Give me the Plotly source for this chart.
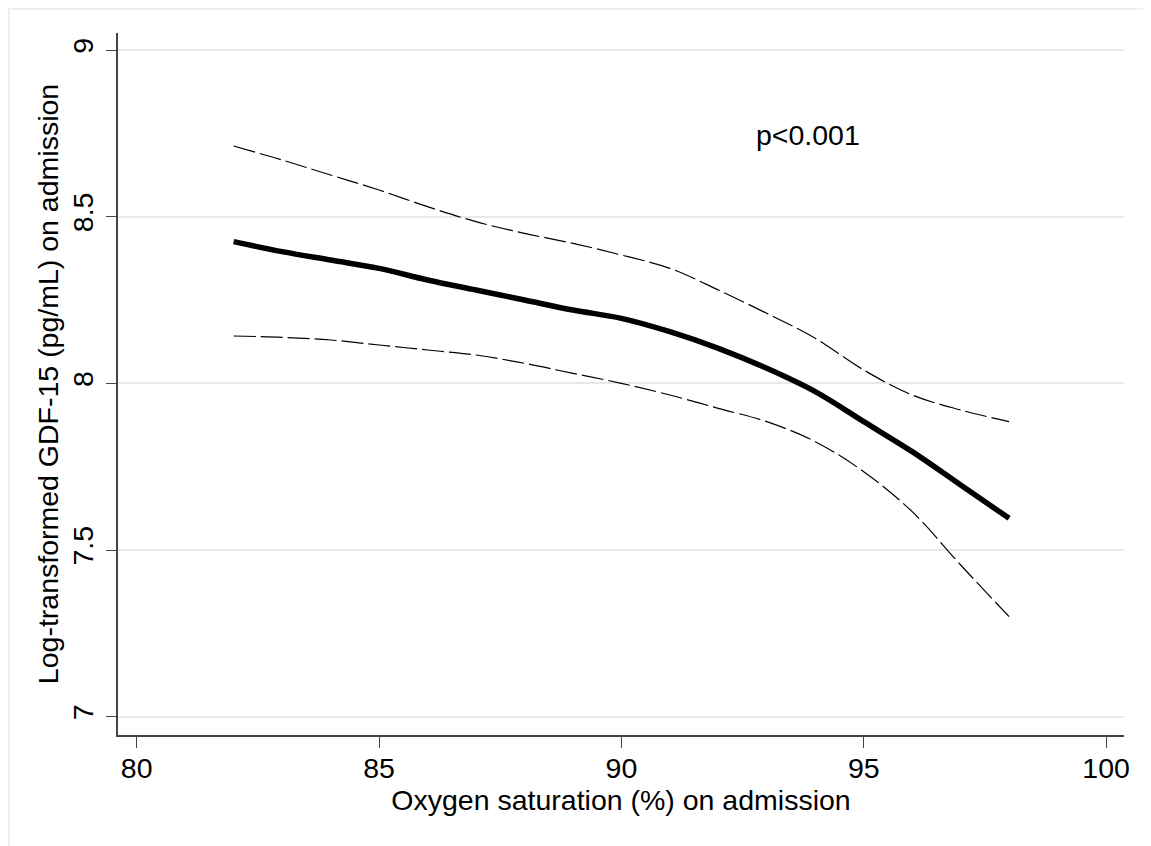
import plotly.graph_objects as go

# Data
oxygen_sat = [82, 83, 84, 85, 86, 87, 88, 89, 90, 91, 92, 93, 94, 95, 96, 97, 98]
gdf15_fit = [8.425, 8.395, 8.37, 8.345, 8.31, 8.28, 8.25, 8.22, 8.195, 8.155, 8.105,
             8.045, 7.975, 7.885, 7.795, 7.695, 7.595]
gdf15_upper = [8.712, 8.67, 8.625, 8.58, 8.53, 8.485, 8.45, 8.42, 8.385, 8.345, 8.28,
               8.21, 8.135, 8.04, 7.965, 7.92, 7.885]
gdf15_lower = [8.142, 8.138, 8.13, 8.115, 8.10, 8.085, 8.06, 8.03, 8.0, 7.965, 7.925,
               7.885, 7.825, 7.735, 7.615, 7.455, 7.30]

x_ticks = [80, 85, 90, 95, 100]
y_ticks = [7, 7.5, 8, 8.5, 9]
y_tick_labels = ["7", "7.5", "8", "8.5", "9"]
p_text = "p<0.001"
p_pos = (93.85, 8.745)

FONT = "Liberation Sans, Arial, sans-serif"
FS = 28.5

fig = go.Figure()
for ys in (gdf15_upper, gdf15_lower):
    fig.add_trace(go.Scatter(
        x=oxygen_sat, y=ys, mode="lines", line_shape="spline",
        line=dict(color="black", width=1.2, dash="22px,5px"),
        showlegend=False, hoverinfo="skip"))
fig.add_trace(go.Scatter(
    x=oxygen_sat, y=gdf15_fit, mode="lines", line_shape="spline",
    line=dict(color="black", width=5.5),
    showlegend=False))

fig.add_annotation(x=p_pos[0], y=p_pos[1], text=p_text, showarrow=False,
                   font=dict(family=FONT, size=FS, color="black"))

# faint outer frame (Stata-like graph region)
fig.add_shape(type="rect", xref="paper", yref="paper",
              x0=(9 - 118) / 1006, x1=(1160 - 118) / 1006,
              y0=(735 - 860) / 702, y1=(735 - 9) / 702,
              line=dict(color="#f0f0f0", width=2), layer="below")

fig.update_layout(
    width=1143, height=838,
    margin=dict(l=110, r=27, t=25, b=111, autoexpand=False),
    paper_bgcolor="white", plot_bgcolor="white",
    font=dict(family=FONT, color="black", size=FS),
    xaxis=dict(
        range=[79.614, 100.37], tickmode="array", tickvals=x_ticks,
        ticks="outside", ticklen=11, tickwidth=1.3, tickcolor="#444",
        showline=True, linecolor="#444", linewidth=2, showgrid=False, zeroline=False,
        tickfont=dict(size=FS), ticklabelstandoff=-4, automargin=False,
        title=dict(text="Oxygen saturation (%) on admission", font=dict(size=FS), standoff=0),
    ),
    yaxis=dict(
        range=[6.945, 9.051], tickmode="array", tickvals=y_ticks, ticktext=y_tick_labels,
        tickangle=-90,
        ticks="outside", ticklen=10, tickwidth=1.3, tickcolor="#444",
        showline=True, linecolor="#444", linewidth=2,
        showgrid=True, gridcolor="#e8e8e8", gridwidth=2, zeroline=False,
        tickfont=dict(size=FS), ticklabelstandoff=2, automargin=False,
        title=dict(text="Log-transformed GDF-15 (pg/mL) on admission", font=dict(size=FS), standoff=0),
    ),
)

fig.write_html("out.html")
